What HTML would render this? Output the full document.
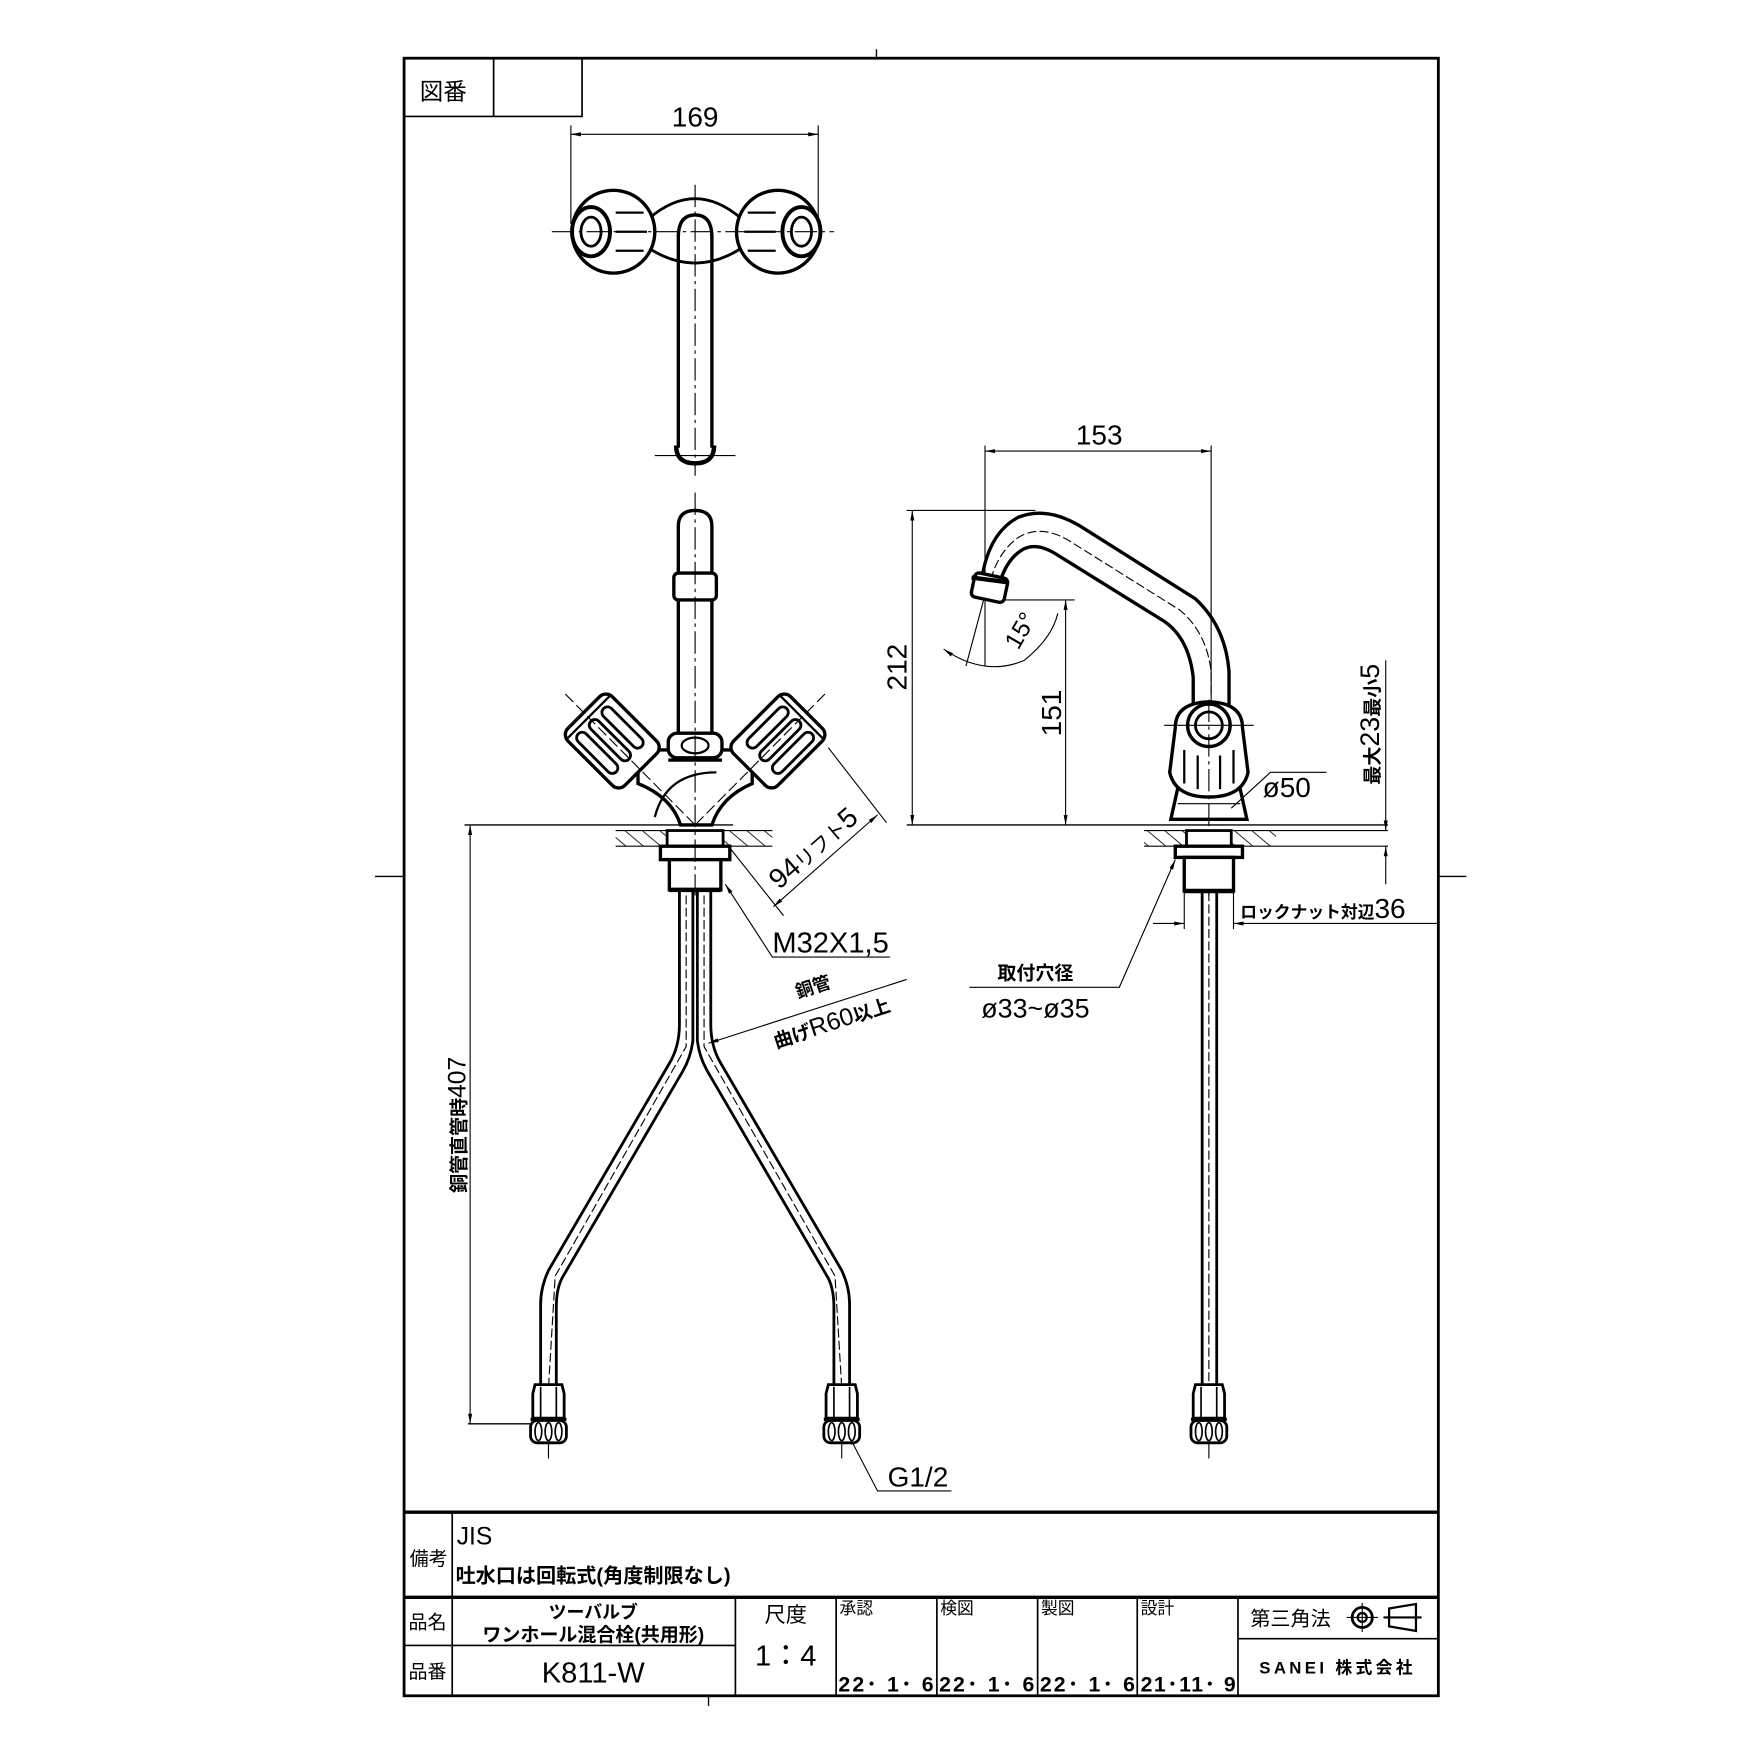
<!DOCTYPE html>
<html><head><meta charset="utf-8"><style>
html,body{margin:0;padding:0;background:#fff}
svg{display:block}
text{font-family:"Liberation Sans","Noto Sans CJK JP",sans-serif;fill:#000}
.b{font-weight:bold}
</style></head><body>
<svg width="1754" height="1754" viewBox="0 0 1567 1567" xmlns="http://www.w3.org/2000/svg">
<defs>
<pattern id="h" width="10" height="10" patternUnits="userSpaceOnUse" patternTransform="rotate(-50)">
<line x1="0" y1="0" x2="0" y2="10" stroke="#000" stroke-width="1.5"/>
</pattern>
<marker id="a" viewBox="0 0 10 10" refX="10" refY="5" markerWidth="9" markerHeight="9" orient="auto-start-reverse" markerUnits="userSpaceOnUse"><path d="M0,3 L10,5 L0,7z" fill="#000"/></marker>
<g id="knobL">
<rect x="-36" y="-28" width="72" height="56" rx="8" fill="#fff" stroke="#000" stroke-width="3"/>
<rect x="-26" y="-20" width="48" height="10" rx="5" fill="none" stroke="#000" stroke-width="2.5"/>
<rect x="-26" y="-4" width="48" height="10" rx="5" fill="none" stroke="#000" stroke-width="2.5"/>
<rect x="-26" y="12" width="48" height="10" rx="5" fill="none" stroke="#000" stroke-width="2.5"/>
<line x1="-30" y1="-28" x2="-30" y2="28" stroke="#000" stroke-width="2"/>
</g>
<g id="fit">
<path d="M-14,0 L-12,-8 L12,-8 L14,0 L14,22 L-14,22 Z" fill="#fff" stroke="#000" stroke-width="2.5"/>
<line x1="-7" y1="-6" x2="-7" y2="22" stroke="#000" stroke-width="1.5"/>
<line x1="7" y1="-6" x2="7" y2="22" stroke="#000" stroke-width="1.5"/>
<rect x="-16" y="24" width="32" height="20" rx="6" fill="#fff" stroke="#000" stroke-width="2.5"/>
<ellipse cx="-9" cy="34" rx="3" ry="8" fill="none" stroke="#000" stroke-width="1.5"/>
<ellipse cx="0" cy="34" rx="3" ry="8" fill="none" stroke="#000" stroke-width="1.5"/>
<ellipse cx="9" cy="34" rx="3" ry="8" fill="none" stroke="#000" stroke-width="1.5"/>
<line x1="-16" y1="23" x2="16" y2="23" stroke="#000" stroke-width="3"/>
<line x1="0" y1="44" x2="0" y2="58" stroke="#000" stroke-width="1"/>
</g>
</defs>

<rect x="361" y="52" width="924" height="1463" fill="none" stroke="#000" stroke-width="2.5"/>
<g stroke="#000" stroke-width="1.2">
<line x1="783" y1="44" x2="783" y2="52"/><line x1="335" y1="783" x2="361" y2="783"/>
<line x1="1285" y1="783" x2="1310" y2="783"/><line x1="633" y1="1515" x2="633" y2="1524"/>
</g>
<path d="M361,104 H520 V52 M441,52 V104" fill="none" stroke="#000" stroke-width="1.5"/>
<text x="375" y="89" font-size="21">図番</text>

<!-- TOP VIEW -->
<g stroke="#000" fill="none">
<line x1="510" y1="112" x2="510" y2="200" stroke-width="1"/>
<line x1="731" y1="112" x2="731" y2="200" stroke-width="1"/>
<line x1="510" y1="120" x2="731" y2="120" stroke-width="1" marker-start="url(#a)" marker-end="url(#a)"/>
<path d="M580,195 Q621,160 662,195 L662,222 Q621,248 580,222Z" stroke-width="2.5" fill="#fff"/>
<ellipse cx="548" cy="207" rx="37" ry="37" stroke-width="3" fill="#fff"/>
<ellipse cx="695" cy="207" rx="37" ry="37" stroke-width="3" fill="#fff"/>
<ellipse cx="528" cy="207" rx="17" ry="22" stroke-width="3.5" fill="#fff"/>
<ellipse cx="716" cy="207" rx="17" ry="22" stroke-width="3.5" fill="#fff"/>
<ellipse cx="528" cy="207" rx="9" ry="13" stroke-width="2.5"/>
<ellipse cx="716" cy="207" rx="9" ry="13" stroke-width="2.5"/>
<path d="M550,190 H575 M550,207 H578 M550,224 H575 M693,190 H668 M693,207 H665 M693,224 H668" stroke-width="2"/>
<path d="M606,212 Q606,192 621,192 Q636,192 636,212" stroke-width="3"/>
<line x1="606" y1="210" x2="606" y2="400" stroke-width="3"/>
<line x1="636" y1="210" x2="636" y2="400" stroke-width="3"/>
<path d="M604,398 Q604,414 621,414 Q638,414 638,398" stroke-width="4"/>
<line x1="493" y1="207" x2="745" y2="207" stroke-width="1" stroke-dasharray="20,4,3,4"/>
<line x1="621" y1="165" x2="621" y2="425" stroke-width="1" stroke-dasharray="20,4,3,4"/>
<line x1="585" y1="407" x2="657" y2="407" stroke-width="1"/>
</g>
<text x="621" y="113" font-size="25" text-anchor="middle">169</text>

<!-- FRONT VIEW -->
<g stroke="#000" fill="none">
<path d="M570,700 Q600,712 608,737 L636,737 Q644,712 672,700 L672,670 L570,670Z" stroke-width="3" fill="#fff"/>
<path d="M585,730 Q595,690 640,690" stroke-width="2"/>
<use href="#knobL" transform="translate(547,662) rotate(45)"/>
<use href="#knobL" transform="translate(695,662) rotate(-45) scale(-1,1)"/>
<path d="M606,470 Q606,456 621,456 Q636,456 636,470 L636,662 L606,662 Z" stroke-width="3" fill="#fff"/>
<rect x="602" y="512" width="38" height="24" rx="4" stroke-width="3" fill="#fff"/>
<rect x="597" y="655" width="48" height="22" rx="8" stroke-width="3" fill="#fff"/>
<ellipse cx="621" cy="666" rx="12" ry="7" stroke-width="2"/>
<line x1="597" y1="679" x2="645" y2="679" stroke-width="3"/>
<line x1="505" y1="620" x2="621" y2="737" stroke-width="1" stroke-dasharray="10,4"/>
<line x1="737" y1="620" x2="621" y2="737" stroke-width="1" stroke-dasharray="10,4"/>
<rect x="550" y="742" width="140" height="14" fill="url(#h)" stroke="none"/>
<line x1="550" y1="742" x2="690" y2="742" stroke-width="1"/><line x1="550" y1="756" x2="690" y2="756" stroke-width="1"/>
<rect x="596" y="742" width="50" height="14" fill="#fff" stroke-width="2.5"/>
<rect x="590" y="756" width="62" height="12" fill="#fff" stroke-width="3"/>
<rect x="598" y="768" width="46" height="27" fill="#fff" stroke-width="3"/>
<line x1="598" y1="795" x2="644" y2="795" stroke-width="4"/>
<path d="M607,796 L607,915 Q607,935 598,950 L490,1135 Q483,1150 483,1165 L483,1243" stroke-width="2.5"/>
<path d="M619,796 L619,930 Q617,945 610,957 L502,1142 Q497,1152 497,1168 L497,1243" stroke-width="2.5"/>
<path d="M623,796 L623,930 Q625,945 632,957 L740,1142 Q745,1152 745,1168 L745,1243" stroke-width="2.5"/>
<path d="M635,796 L635,915 Q635,935 644,950 L752,1135 Q759,1150 759,1165 L759,1243" stroke-width="2.5"/>
<path d="M613,800 L613,935 L496,1140 L490,1240 M629,800 L629,935 L746,1140 L752,1240" stroke-width="1" stroke-dasharray="8,3"/>
<line x1="621" y1="440" x2="621" y2="800" stroke-width="1" stroke-dasharray="20,4,3,4"/>
<line x1="415" y1="737" x2="655" y2="737" stroke-width="1.2"/>
<line x1="418" y1="1272" x2="476" y2="1272" stroke-width="1.2"/>
<line x1="420" y1="737" x2="420" y2="1272" stroke-width="1" marker-start="url(#a)" marker-end="url(#a)"/>
<line x1="650" y1="755" x2="700" y2="818" stroke-width="1"/>
<line x1="740" y1="668" x2="792" y2="735" stroke-width="1"/>
<line x1="691" y1="810" x2="784" y2="728" stroke-width="1" marker-start="url(#a)" marker-end="url(#a)"/>
<path d="M648,790 L690,855 H795" stroke-width="1" marker-start="url(#a)"/>
<path d="M633,932 L810,875" stroke-width="1" marker-start="url(#a)"/>
<path d="M758,1282 L784,1332 H850" stroke-width="1" marker-start="url(#a)"/>
</g>
<use href="#fit" transform="translate(490,1245)"/>
<use href="#fit" transform="translate(752,1245)"/>
<text transform="translate(416,1005) rotate(-90)" font-size="22" text-anchor="middle"><tspan class="b" font-size="17">銅管直管時</tspan>407</text>
<text transform="translate(732,764) rotate(-41)" font-size="25" text-anchor="middle">94<tspan font-size="18">リフト</tspan>5</text>
<text x="690" y="851" font-size="26">M32X1,5</text>
<text transform="translate(728,887) rotate(-18)" font-size="16" class="b" text-anchor="middle">銅管</text>
<text transform="translate(745,920) rotate(-18)" font-size="22" text-anchor="middle"><tspan font-size="17" class="b">曲げ</tspan>R60<tspan font-size="17" class="b">以上</tspan></text>
<text x="793" y="1328" font-size="25">G1/2</text>

<!-- SIDE VIEW -->
<g stroke="#000" fill="none">
<line x1="880" y1="398" x2="880" y2="595" stroke-width="1"/>
<line x1="1082" y1="398" x2="1082" y2="640" stroke-width="1"/>
<line x1="880" y1="403" x2="1082" y2="403" stroke-width="1" marker-start="url(#a)" marker-end="url(#a)"/>
<line x1="810" y1="456" x2="925" y2="456" stroke-width="1"/>
<line x1="815" y1="456" x2="815" y2="737" stroke-width="1" marker-start="url(#a)" marker-end="url(#a)"/>
<line x1="885" y1="536" x2="960" y2="536" stroke-width="1"/>
<line x1="952" y1="536" x2="952" y2="737" stroke-width="1" marker-start="url(#a)" marker-end="url(#a)"/>
<line x1="810" y1="737" x2="1240" y2="737" stroke-width="1.2"/>
<line x1="863" y1="595" x2="883" y2="520" stroke-width="1"/>
<path d="M843,580 Q880,605 915,590 Q940,570 945,548" stroke-width="1" marker-start="url(#a)"/>
<path d="M1098,632 L1098,600 Q1095,560 1068,535 L965,470 Q935,452 910,462 Q885,475 878,512" stroke-width="3"/>
<path d="M1066,632 L1066,605 Q1062,570 1040,555 L945,496 Q925,483 912,492 Q900,500 894,518" stroke-width="3"/>
<path d="M1082,620 L1082,600 Q1078,565 1054,545 L955,483 Q930,468 910,480 Q893,492 886,515" stroke-width="1" stroke-dasharray="8,3"/>
<rect x="-15" y="-11" width="30" height="22" rx="4" transform="translate(884,525) rotate(12)" fill="#fff" stroke-width="3"/>
<line x1="868" y1="516" x2="899" y2="520" stroke-width="4"/>
<path d="M1052,705 L1046,732 L1114,732 L1108,705Z" fill="#fff" stroke-width="3"/>
<path d="M1050,650 Q1050,628 1080,627 Q1110,628 1110,650 L1115,690 Q1110,712 1080,712 Q1050,712 1045,690Z" fill="#fff" stroke-width="3"/>
<circle cx="1080" cy="648" r="19" stroke-width="3"/>
<circle cx="1080" cy="648" r="12" stroke-width="2.5"/>
<path d="M1058,670 V700 M1070,675 V705 M1090,675 V705 M1102,670 V700" stroke-width="2"/>
<line x1="1040" y1="648" x2="1120" y2="648" stroke-width="1"/>
<line x1="1080" y1="625" x2="1080" y2="800" stroke-width="1" stroke-dasharray="20,4,3,4"/>
<rect x="1022" y="742" width="118" height="14" fill="url(#h)" stroke="none"/>
<line x1="1022" y1="742" x2="1240" y2="742" stroke-width="1"/><line x1="1022" y1="756" x2="1240" y2="756" stroke-width="1"/>
<rect x="1060" y="742" width="40" height="14" fill="#fff" stroke-width="2.5"/>
<rect x="1050" y="756" width="60" height="10" fill="#fff" stroke-width="3"/>
<rect x="1058" y="766" width="44" height="30" fill="#fff" stroke-width="3"/>
<line x1="1058" y1="796" x2="1102" y2="796" stroke-width="4"/>
<line x1="1074" y1="797" x2="1074" y2="1243" stroke-width="2.5"/>
<line x1="1087" y1="797" x2="1087" y2="1243" stroke-width="2.5"/>
<line x1="1080" y1="797" x2="1080" y2="1243" stroke-width="1" stroke-dasharray="8,3"/>
<line x1="1238" y1="590" x2="1238" y2="742" stroke-width="1" marker-end="url(#a)"/>
<line x1="1238" y1="756" x2="1238" y2="790" stroke-width="1" marker-start="url(#a)"/>
<line x1="1058" y1="790" x2="1058" y2="830" stroke-width="1"/>
<line x1="1102" y1="790" x2="1102" y2="830" stroke-width="1"/>
<line x1="1030" y1="825" x2="1058" y2="825" stroke-width="1" marker-end="url(#a)"/>
<line x1="1102" y1="825" x2="1285" y2="825" stroke-width="1" marker-start="url(#a)"/>
<path d="M1052,718 L1108,718 M1100,722 L1135,690 H1185" stroke-width="1"/>
<path d="M866,882 H1000 L1050,768" stroke-width="1" marker-end="url(#a)"/>
</g>
<use href="#fit" transform="translate(1080,1245)"/>
<text x="982" y="397" font-size="25" text-anchor="middle">153</text>
<text transform="translate(810,596) rotate(-90)" font-size="25" text-anchor="middle">212</text>
<text transform="translate(948,637) rotate(-90)" font-size="25" text-anchor="middle">151</text>
<text transform="translate(918,567) rotate(-60)" font-size="22" text-anchor="middle">15°</text>
<text x="1128" y="712" font-size="25">ø50</text>
<text transform="translate(1232,647) rotate(-90)" font-size="24" text-anchor="middle"><tspan class="b" font-size="17">最大</tspan>23<tspan class="b" font-size="17">最小</tspan>5</text>
<text x="1108" y="820" font-size="25"><tspan font-size="15" class="b">ロックナット対辺</tspan>36</text>
<text x="925" y="875" font-size="17" class="b" text-anchor="middle">取付穴径</text>
<text x="925" y="909" font-size="24" text-anchor="middle">ø33~ø35</text>

<!-- TITLE BLOCK -->
<g stroke="#000" fill="none">
<line x1="361" y1="1351" x2="1285" y2="1351" stroke-width="3"/>
<line x1="361" y1="1427" x2="1285" y2="1427" stroke-width="3"/>
<line x1="404" y1="1351" x2="404" y2="1515" stroke-width="1.5"/>
<line x1="404" y1="1470" x2="657" y2="1470" stroke-width="1.5"/>
<line x1="361" y1="1470" x2="404" y2="1470" stroke-width="1.5"/>
<path d="M657,1427 V1515 M747,1427 V1515 M837,1427 V1515 M927,1427 V1515 M1016,1427 V1515 M1106,1427 V1515" stroke-width="1.5"/>
<line x1="1106" y1="1464" x2="1285" y2="1464" stroke-width="1.5"/>
<circle cx="1217" cy="1445" r="9" stroke-width="2.5"/><circle cx="1217" cy="1445" r="4" stroke-width="2"/>
<line x1="1203" y1="1445" x2="1231" y2="1445" stroke-width="1"/><line x1="1217" y1="1432" x2="1217" y2="1458" stroke-width="1"/>
<path d="M1241,1437 L1265,1433 L1265,1457 L1241,1453Z M1236,1445 H1270" stroke-width="2"/>
</g>
<text x="366" y="1398" font-size="17">備考</text>
<text x="408" y="1380" font-size="22">JIS</text>
<text x="407" y="1414" font-size="18" class="b">吐水口は回転式(角度制限なし)</text>
<text x="365" y="1455" font-size="17">品名</text>
<text x="365" y="1499" font-size="17">品番</text>
<text x="530" y="1446" font-size="16" class="b" text-anchor="middle">ツーバルブ</text>
<text x="530" y="1466" font-size="17" class="b" text-anchor="middle">ワンホール混合栓(共用形)</text>
<text x="530" y="1503" font-size="26" text-anchor="middle">K811-W</text>
<text x="702" y="1449" font-size="19" text-anchor="middle">尺度</text>
<text x="702" y="1488" font-size="26" text-anchor="middle">1：4</text>
<text x="750" y="1442" font-size="15">承認</text>
<text x="840" y="1442" font-size="15">検図</text>
<text x="930" y="1442" font-size="15">製図</text>
<text x="1019" y="1442" font-size="15">設計</text>
<text x="749" y="1511" font-size="19" class="b" textLength="85">22･ 1･ 6</text>
<text x="839" y="1511" font-size="19" class="b" textLength="85">22･ 1･ 6</text>
<text x="929" y="1511" font-size="19" class="b" textLength="85">22･ 1･ 6</text>
<text x="1019" y="1511" font-size="19" class="b" textLength="85">21･11･ 9</text>
<text x="1117" y="1452" font-size="18">第三角法</text>
<text x="1195" y="1495" font-size="15" class="b" text-anchor="middle" letter-spacing="3">SANEI 株式会社</text>
</svg>
</body></html>
